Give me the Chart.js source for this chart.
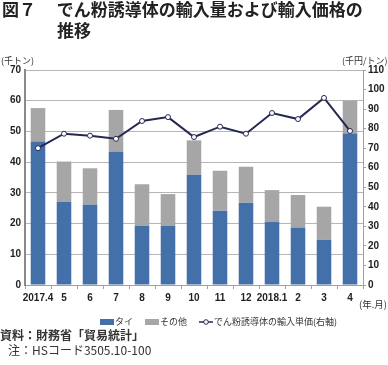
<!DOCTYPE html>
<html>
<head>
<meta charset="utf-8">
<script src="https://cdn.jsdelivr.net/npm/chart.js@4.4.0/dist/chart.umd.min.js"></script>
<style>
  html, body { margin: 0; padding: 0; background: #fff; }
  body { width: 388px; height: 365px; position: relative; overflow: hidden; font-family: "Noto Sans CJK JP", "Noto Sans", sans-serif; color: #222; }
  #wrap { position: absolute; left: 0; top: 0; width: 388px; height: 365px; }
  .t { position: absolute; white-space: nowrap; }
  #title1 { left: 2px; top: -2px; font-size: 17px; font-weight: bold; line-height: 22px; }
  #title2 { left: 57px; top: 19px; font-size: 17px; font-weight: bold; line-height: 22px; }
  #unitL { left: 1px; top: 54px; font-size: 9px; color: #333; }
  #unitR { left: 342px; top: 54px; font-size: 9px; color: #333; }
  #unitX { left: 359px; top: 297px; font-size: 9.5px; color: #333; }
  #legend { left: 100px; top: 315px; font-size: 9px; color: #333; display: flex; align-items: center; }
  .box { display: inline-block; width: 14px; height: 6px; margin-right: 1px; }
  .lg { display: inline-flex; align-items: center; margin-right: 12px; }
  #note1 { left: 0px; top: 326px; font-size: 12px; font-weight: bold; color: #333; }
  #note2 { left: 8px; top: 341px; font-size: 12px; color: #333; }
</style>
</head>
<body>
<div id="wrap"><canvas id="c" width="388" height="365"></canvas></div>
<div class="t" id="title1">図７　 でん粉誘導体の輸入量および輸入価格の</div>
<div class="t" id="title2">推移</div>
<div class="t" id="unitL">(千トン)</div>
<div class="t" id="unitR">(千円/トン)</div>
<div class="t" id="unitX">(年.月)</div>
<div class="t" id="legend">
  <span class="lg"><span class="box" style="background:#4470a9"></span>タイ</span>
  <span class="lg"><span class="box" style="background:#a6a6a6"></span>その他</span>
  <span class="lg" style="margin-right:0"><svg width="14" height="8" style="margin-right:1px"><line x1="0" y1="4" x2="14" y2="4" stroke="#252852" stroke-width="1.5"/><circle cx="7" cy="4" r="2.3" fill="#fff" stroke="#252852" stroke-width="1"/></svg>でん粉誘導体の輸入単価(右軸)</span>
</div>
<div class="t" id="note1">資料：財務省「貿易統計」</div>
<div class="t" id="note2">注：HSコード3505.10-100</div>
<script>
const categories = ["2017.4","5","6","7","8","9","10","11","12","2018.1","2","3","4"];
const thai = [46.7, 27.1, 26.1, 43.5, 19.3, 19.3, 35.9, 24.2, 26.8, 20.5, 18.7, 14.7, 49.3];
const totals = [57.6, 40.2, 38.0, 57.0, 32.8, 29.6, 47.1, 37.2, 38.5, 30.9, 29.3, 25.5, 60.0];
const others = totals.map((t, i) => +(t - thai[i]).toFixed(1));
const unitPrice = [70.0, 77.4, 76.4, 74.8, 83.9, 85.9, 75.7, 81.0, 77.4, 88.0, 84.9, 95.7, 78.8];
const leftTicks = [0, 70, 10];
const rightTicks = [0, 110, 10];

const tickFont = { family: "'Liberation Sans', Arial, sans-serif", size: 10, weight: 'bold' };

new Chart(document.getElementById('c'), {
  type: 'bar',
  data: {
    labels: categories,
    datasets: [
      { type: 'line', label: 'でん粉誘導体の輸入単価(右軸)', data: unitPrice, yAxisID: 'yR',
        borderColor: '#252852', borderWidth: 2, backgroundColor: '#fff',
        pointRadius: 2.5, pointBorderWidth: 1, pointBackgroundColor: '#fff', pointBorderColor: '#252852',
        tension: 0, order: 0 },
      { label: 'タイ', data: thai, backgroundColor: '#4470a9', yAxisID: 'y', stack: 's', order: 1,
        barPercentage: 0.56, categoryPercentage: 1.0 },
      { label: 'その他', data: others, backgroundColor: '#a6a6a6', yAxisID: 'y', stack: 's', order: 1,
        barPercentage: 0.56, categoryPercentage: 1.0 }
    ]
  },
  options: {
    responsive: false,
    animation: false,
    layout: { padding: { top: 70, bottom: 60, left: 0, right: 0 } },
    plugins: { legend: { display: false }, title: { display: false }, tooltip: { enabled: false } },
    scales: {
      x: {
        stacked: true,
        grid: { offset: true, drawOnChartArea: false, drawTicks: true, tickLength: 4, color: '#a0a0a0' },
        border: { color: '#a0a0a0', width: 1 },
        ticks: { font: tickFont, color: '#222', padding: 3, maxRotation: 0, autoSkip: false },
        afterFit: s => { s.height = 20; }
      },
      y: {
        position: 'left', stacked: true,
        min: leftTicks[0], max: leftTicks[1],
        ticks: { stepSize: leftTicks[2], font: tickFont, color: '#222', padding: 4 },
        grid: { color: '#b5b5b5', lineWidth: 1, drawTicks: false },
        border: { color: '#8a8a8a', width: 2 },
        afterFit: s => { s.width = 25; }
      },
      yR: {
        position: 'right',
        min: rightTicks[0], max: rightTicks[1],
        ticks: { stepSize: rightTicks[2], font: tickFont, color: '#222', padding: 2 },
        grid: { drawOnChartArea: false, drawTicks: true, tickLength: 3, color: '#a0a0a0' },
        border: { color: '#a0a0a0', width: 1 },
        afterFit: s => { s.width = 25; }
      }
    }
  }
});
</script>
</body>
</html>
